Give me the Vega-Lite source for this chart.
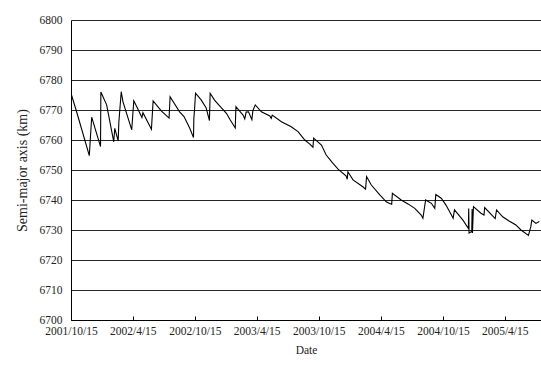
{
  "$schema": "https://vega.github.io/schema/vega-lite/v6.json",
  "width": 470,
  "height": 300,
  "autosize": "none",
  "padding": {"left": 71, "top": 20, "right": 0, "bottom": 45},
  "background": "#ffffff",
  "config": {
    "view": {"stroke": null},
    "font": "'Times New Roman', 'Liberation Serif', serif"
  },
  "data": {
    "values": [
      {"date": "2001-10-16", "sma": 6775.2},
      {"date": "2001-10-30", "sma": 6770.0},
      {"date": "2001-12-08", "sma": 6754.8},
      {"date": "2001-12-11", "sma": 6760.5},
      {"date": "2001-12-15", "sma": 6767.6},
      {"date": "2002-01-10", "sma": 6757.8},
      {"date": "2002-01-11", "sma": 6776.0},
      {"date": "2002-01-28", "sma": 6771.7},
      {"date": "2002-02-18", "sma": 6759.4},
      {"date": "2002-02-21", "sma": 6763.9},
      {"date": "2002-03-03", "sma": 6759.7},
      {"date": "2002-03-05", "sma": 6765.9},
      {"date": "2002-03-12", "sma": 6776.1},
      {"date": "2002-03-17", "sma": 6772.8},
      {"date": "2002-04-12", "sma": 6763.4},
      {"date": "2002-04-18", "sma": 6773.1},
      {"date": "2002-04-25", "sma": 6771.5},
      {"date": "2002-05-12", "sma": 6767.5},
      {"date": "2002-05-15", "sma": 6769.1},
      {"date": "2002-06-09", "sma": 6763.6},
      {"date": "2002-06-14", "sma": 6773.0},
      {"date": "2002-07-08", "sma": 6769.7},
      {"date": "2002-07-31", "sma": 6767.3},
      {"date": "2002-08-03", "sma": 6774.4},
      {"date": "2002-08-31", "sma": 6769.4},
      {"date": "2002-09-13", "sma": 6767.8},
      {"date": "2002-09-30", "sma": 6763.9},
      {"date": "2002-10-11", "sma": 6760.8},
      {"date": "2002-10-12", "sma": 6767.2},
      {"date": "2002-10-14", "sma": 6770.0},
      {"date": "2002-10-17", "sma": 6775.6},
      {"date": "2002-11-03", "sma": 6773.3},
      {"date": "2002-11-17", "sma": 6770.8},
      {"date": "2002-11-27", "sma": 6766.5},
      {"date": "2002-11-29", "sma": 6775.6},
      {"date": "2002-12-12", "sma": 6773.3},
      {"date": "2002-12-27", "sma": 6771.4},
      {"date": "2003-01-16", "sma": 6768.9},
      {"date": "2003-01-26", "sma": 6766.9},
      {"date": "2003-02-11", "sma": 6764.0},
      {"date": "2003-02-13", "sma": 6771.1},
      {"date": "2003-03-06", "sma": 6768.3},
      {"date": "2003-03-11", "sma": 6767.0},
      {"date": "2003-03-15", "sma": 6769.3},
      {"date": "2003-03-22", "sma": 6769.4},
      {"date": "2003-04-01", "sma": 6766.8},
      {"date": "2003-04-04", "sma": 6769.8},
      {"date": "2003-04-11", "sma": 6771.7},
      {"date": "2003-04-29", "sma": 6769.4},
      {"date": "2003-05-24", "sma": 6768.0},
      {"date": "2003-05-28", "sma": 6767.2},
      {"date": "2003-05-31", "sma": 6768.3},
      {"date": "2003-06-27", "sma": 6766.1},
      {"date": "2003-07-26", "sma": 6764.4},
      {"date": "2003-08-15", "sma": 6762.8},
      {"date": "2003-09-04", "sma": 6760.0},
      {"date": "2003-09-18", "sma": 6758.7},
      {"date": "2003-09-28", "sma": 6757.6},
      {"date": "2003-09-30", "sma": 6760.6},
      {"date": "2003-10-23", "sma": 6758.3},
      {"date": "2003-11-06", "sma": 6755.0},
      {"date": "2003-11-26", "sma": 6752.2},
      {"date": "2003-12-11", "sma": 6750.3},
      {"date": "2004-01-04", "sma": 6748.0},
      {"date": "2004-01-07", "sma": 6746.9},
      {"date": "2004-01-09", "sma": 6749.4},
      {"date": "2004-01-24", "sma": 6746.7},
      {"date": "2004-02-22", "sma": 6744.4},
      {"date": "2004-03-01", "sma": 6743.6},
      {"date": "2004-03-04", "sma": 6747.8},
      {"date": "2004-03-18", "sma": 6745.0},
      {"date": "2004-04-12", "sma": 6741.7},
      {"date": "2004-05-01", "sma": 6739.4},
      {"date": "2004-05-11", "sma": 6738.8},
      {"date": "2004-05-17", "sma": 6738.6},
      {"date": "2004-05-19", "sma": 6742.2},
      {"date": "2004-06-14", "sma": 6740.0},
      {"date": "2004-07-04", "sma": 6738.7},
      {"date": "2004-07-24", "sma": 6737.2},
      {"date": "2004-08-12", "sma": 6735.0},
      {"date": "2004-08-17", "sma": 6733.9},
      {"date": "2004-08-25", "sma": 6740.0},
      {"date": "2004-09-11", "sma": 6738.9},
      {"date": "2004-09-21", "sma": 6737.2},
      {"date": "2004-09-24", "sma": 6741.8},
      {"date": "2004-10-10", "sma": 6740.6},
      {"date": "2004-10-24", "sma": 6738.3},
      {"date": "2004-11-09", "sma": 6735.0},
      {"date": "2004-11-14", "sma": 6733.9},
      {"date": "2004-11-18", "sma": 6736.7},
      {"date": "2004-12-13", "sma": 6733.3},
      {"date": "2004-12-29", "sma": 6730.5},
      {"date": "2004-12-30", "sma": 6737.2},
      {"date": "2004-12-31", "sma": 6729.0},
      {"date": "2005-01-08", "sma": 6729.5},
      {"date": "2005-01-09", "sma": 6737.0},
      {"date": "2005-01-10", "sma": 6729.0},
      {"date": "2005-01-13", "sma": 6737.8},
      {"date": "2005-02-04", "sma": 6735.6},
      {"date": "2005-02-13", "sma": 6735.0},
      {"date": "2005-02-15", "sma": 6737.5},
      {"date": "2005-03-18", "sma": 6733.8},
      {"date": "2005-03-22", "sma": 6736.7},
      {"date": "2005-04-09", "sma": 6734.4},
      {"date": "2005-04-28", "sma": 6733.0},
      {"date": "2005-05-18", "sma": 6731.7},
      {"date": "2005-06-02", "sma": 6730.0},
      {"date": "2005-06-24", "sma": 6728.2},
      {"date": "2005-07-01", "sma": 6731.1},
      {"date": "2005-07-04", "sma": 6733.3},
      {"date": "2005-07-16", "sma": 6732.2},
      {"date": "2005-07-26", "sma": 6732.8}
    ],
    "format": {"parse": {"date": "utc:'%Y-%m-%d'"}}
  },
  "mark": {"type": "line", "color": "#000000", "strokeWidth": 1.1, "clip": true},
  "encoding": {
    "x": {
      "field": "date",
      "type": "temporal",
      "scale": {
        "type": "utc",
        "domain": [
          {"year": 2001, "month": 10, "date": 15, "utc": true},
          {"year": 2005, "month": 7, "date": 31, "utc": true}
        ]
      },
      "axis": {
        "title": "Date",
        "titleFont": "'Times New Roman', 'Liberation Serif', serif",
        "titleFontSize": 11.5,
        "titleFontWeight": "normal",
        "titleColor": "#222222",
        "titlePadding": 8,
        "values": [
          {"year": 2001, "month": 10, "date": 15, "utc": true},
          {"year": 2002, "month": 4, "date": 15, "utc": true},
          {"year": 2002, "month": 10, "date": 15, "utc": true},
          {"year": 2003, "month": 4, "date": 15, "utc": true},
          {"year": 2003, "month": 10, "date": 15, "utc": true},
          {"year": 2004, "month": 4, "date": 15, "utc": true},
          {"year": 2004, "month": 10, "date": 15, "utc": true},
          {"year": 2005, "month": 4, "date": 15, "utc": true}
        ],
        "labelExpr": "utcFormat(datum.value, '%Y/%-m/%-d')",
        "labelFont": "'Times New Roman', 'Liberation Serif', serif",
        "labelFontSize": 11.5,
        "labelColor": "#222222",
        "labelPadding": 9,
        "labelFlush": false,
        "labelOverlap": false,
        "grid": false,
        "domainColor": "#000000",
        "domainWidth": 1,
        "tickColor": "#000000",
        "tickSize": -4,
        "tickWidth": 1
      }
    },
    "y": {
      "field": "sma",
      "type": "quantitative",
      "scale": {"domain": [6700, 6800], "nice": false, "zero": false},
      "axis": {
        "title": "Semi-major axis (km)",
        "titleFont": "'Times New Roman', 'Liberation Serif', serif",
        "titleFontSize": 14,
        "titleFontWeight": "normal",
        "titleColor": "#222222",
        "titlePadding": 10,
        "values": [6700, 6710, 6720, 6730, 6740, 6750, 6760, 6770, 6780, 6790, 6800],
        "format": "d",
        "labelFont": "'Times New Roman', 'Liberation Serif', serif",
        "labelFontSize": 11.5,
        "labelColor": "#222222",
        "labelPadding": 9,
        "labelFlush": false,
        "ticks": false,
        "grid": true,
        "gridColor": "#000000",
        "gridWidth": 1,
        "gridOpacity": 0.85,
        "domainColor": "#000000",
        "domainWidth": 1
      }
    }
  }
}
